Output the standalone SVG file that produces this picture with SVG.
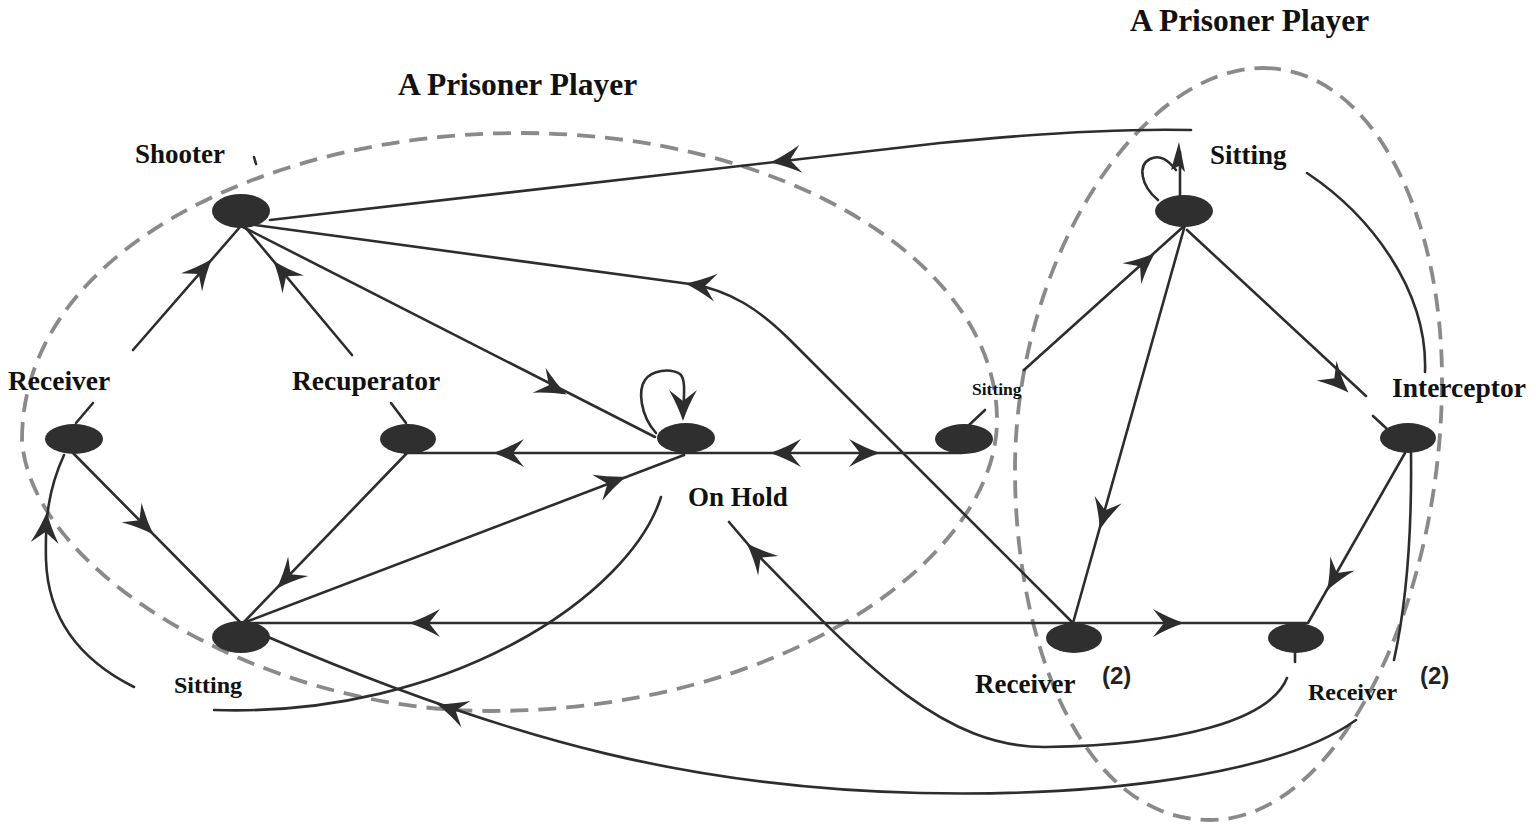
<svg xmlns="http://www.w3.org/2000/svg" xmlns:xlink="http://www.w3.org/1999/xlink" width="1536" height="830" viewBox="0 0 1536 830">
<style>
.ln{fill:none;stroke:#2d2d2d;stroke-width:2.6;stroke-linecap:round}
.dash{fill:none;stroke:#8a8a8a;stroke-width:3.8;stroke-dasharray:18 10}
.nd{fill:#2f2f2f}
.ah{fill:#2d2d2d}
.lb{font-family:"Liberation Serif","Times New Roman",serif;font-weight:bold;fill:#111}
.num{font-family:"Liberation Sans",Arial,sans-serif;font-weight:bold;fill:#222}
</style>
<defs>
<path id="ah" d="M12,0 Q-3,-5 -19,-14 L-8,0 L-19,14 Q-3,5 12,0 Z"/>
</defs>
<rect width="1536" height="830" fill="#fff"/>
<g id="groups">
<path class="dash" d="M22,440 C22,250 270,133 520,133 C780,133 997,260 997,420 C997,560 780,711 490,711 C260,711 30,570 22,440 Z"/>
<path class="dash" d="M1263,68 C1370,68 1442,210 1442,380 C1442,600 1340,820 1210,820 C1080,820 1015,640 1015,470 C1015,260 1140,68 1263,68 Z"/>
<text class="lb" x="398" y="95" font-size="31.5">A Prisoner Player</text>
<text class="lb" x="1130" y="31" font-size="31.5">A Prisoner Player</text>
</g>
<g id="connectors">
<path class="ln" d="M1191,130 C1100,128 1000,137 940,143 L270,220"/>
<path class="ln" d="M243,227 L655,437"/>
<path class="ln" d="M1073,623 L790,340 C760,310 730,290 690,284 L255,225"/>
<path class="ln" d="M133,350 L240,227"/>
<path class="ln" d="M352,355 L245,227"/>
<path class="ln" d="M93,403 L76,423"/>
<path class="ln" d="M391,403 L406,423"/>
<path class="ln" d="M985,410 L968,426"/>
<path class="ln" d="M254,157 L256,164"/>
<path class="ln" d="M656,433 C640,415 638,390 645,380 C652,370 670,368 680,374 C686,379 684,395 683,415"/>
<path class="ln" d="M405,453 L962,453"/>
<path class="ln" d="M407,453 L243,623"/>
<path class="ln" d="M73,453 L241,623"/>
<path class="ln" d="M243,623 L684,455"/>
<path class="ln" d="M134,687 C80,660 48,620 46,560 C45,520 48,490 64,455"/>
<path class="ln" d="M661,497 C630,595 450,718 214,710"/>
<path class="ln" d="M243,623 L1306,623"/>
<path class="ln" d="M1356,720 C1280,775 1100,797 920,793 C700,788 520,745 268,637"/>
<path class="ln" d="M1287,678 C1270,720 1180,745 1046,747 C940,748 860,660 753,550 L729,522"/>
<path class="ln" d="M1295,652 L1295,662"/>
<path class="ln" d="M1024,370 L1183,227"/>
<path class="ln" d="M1185,225 L1073,623"/>
<path class="ln" d="M1187,230 L1366,396"/>
<path class="ln" d="M1373,416 L1386,428"/>
<path class="ln" d="M1158,200 C1140,185 1138,165 1150,159 C1160,154 1168,160 1176,170"/>
<path class="ln" d="M1180,197 L1180,152"/>
<path class="ln" d="M1307,173 C1370,215 1428,290 1425,372"/>
<path class="ln" d="M1405,453 L1308,623"/>
<path class="ln" d="M1411,453 C1412,540 1405,610 1394,660"/>
<g class="ah">
<use xlink:href="#ah" transform="translate(782,161) rotate(173.4)"/>
<use xlink:href="#ah" transform="translate(556,389) rotate(27.4)"/>
<use xlink:href="#ah" transform="translate(697,285) rotate(-172.3)"/>
<use xlink:href="#ah" transform="translate(204,268) rotate(-49)"/>
<use xlink:href="#ah" transform="translate(281,270) rotate(-129.9)"/>
<use xlink:href="#ah" transform="translate(683,409) rotate(90)"/>
<use xlink:href="#ah" transform="translate(505,453) rotate(180)"/>
<use xlink:href="#ah" transform="translate(782,453) rotate(180)"/>
<use xlink:href="#ah" transform="translate(868,453) rotate(0)"/>
<use xlink:href="#ah" transform="translate(285,580) rotate(134)"/>
<use xlink:href="#ah" transform="translate(145,526) rotate(45.3)"/>
<use xlink:href="#ah" transform="translate(615,481) rotate(-20.9)"/>
<use xlink:href="#ah" transform="translate(46,524) rotate(-86)"/>
<use xlink:href="#ah" transform="translate(421,623) rotate(180)"/>
<use xlink:href="#ah" transform="translate(1172,623) rotate(0)"/>
<use xlink:href="#ah" transform="translate(448,708) rotate(-160.9)"/>
<use xlink:href="#ah" transform="translate(755,552) rotate(-134)"/>
<use xlink:href="#ah" transform="translate(1146,261) rotate(-42)"/>
<use xlink:href="#ah" transform="translate(1103,518) rotate(105.7)"/>
<use xlink:href="#ah" transform="translate(1340,384) rotate(45.1)"/>
<use xlink:href="#ah" transform="translate(1333,580) rotate(119.7)"/>
<path d="M1179,142 L1185,172 L1179,166 L1171,170 Z"/>
</g>
</g>
<g id="node-shooter"><ellipse class="nd" cx="241" cy="211" rx="29" ry="17"/><text class="lb" x="135" y="163" font-size="27">Shooter</text></g>
<g id="node-receiver-left"><ellipse class="nd" cx="74" cy="439" rx="29" ry="15"/><text class="lb" x="8" y="390" font-size="27.5">Receiver</text></g>
<g id="node-recuperator"><ellipse class="nd" cx="408" cy="439" rx="28" ry="15"/><text class="lb" x="292" y="390" font-size="27.5">Recuperator</text></g>
<g id="node-onhold"><ellipse class="nd" cx="686" cy="438" rx="29" ry="15"/><text class="lb" x="688" y="506" font-size="27">On Hold</text></g>
<g id="node-sitting-mid"><ellipse class="nd" cx="964" cy="439" rx="29" ry="15"/><text class="lb" x="972" y="395" font-size="17.5">Sitting</text></g>
<g id="node-sitting-top"><ellipse class="nd" cx="1184" cy="211" rx="29" ry="16"/><text class="lb" x="1210" y="164" font-size="27">Sitting</text></g>
<g id="node-interceptor"><ellipse class="nd" cx="1408" cy="438" rx="28" ry="15"/><text class="lb" x="1392" y="397" font-size="27.5">Interceptor</text></g>
<g id="node-sitting-bottom"><ellipse class="nd" cx="241" cy="637" rx="29" ry="16"/><text class="lb" x="174" y="693" font-size="24">Sitting</text></g>
<g id="node-receiver2-a"><ellipse class="nd" cx="1074" cy="638" rx="28" ry="15"/><text class="lb" x="975" y="693" font-size="27">Receiver</text><text class="num" x="1102" y="684" font-size="24">(2)</text></g>
<g id="node-receiver2-b"><ellipse class="nd" cx="1296" cy="638" rx="28" ry="15"/><text class="lb" x="1308" y="700" font-size="24">Receiver</text><text class="num" x="1420" y="684" font-size="24">(2)</text></g>
</svg>
